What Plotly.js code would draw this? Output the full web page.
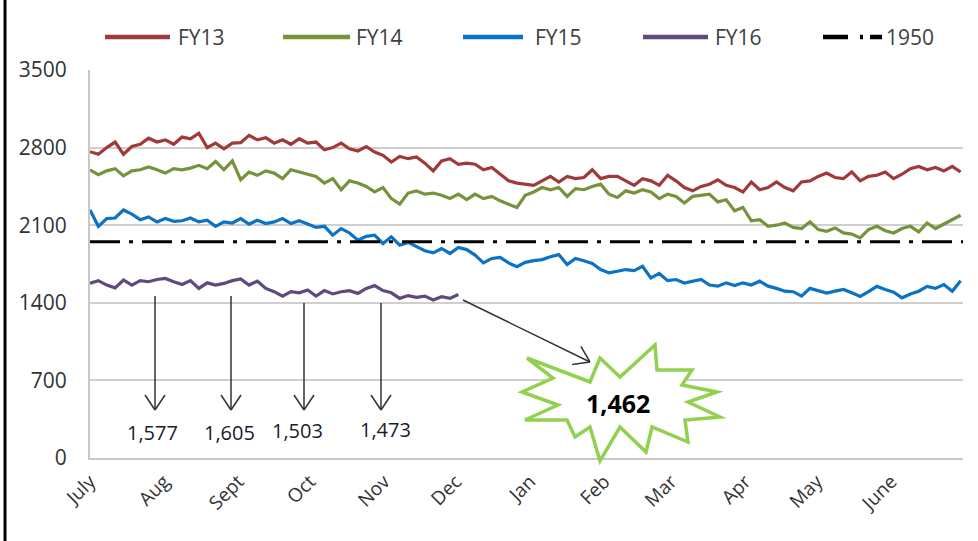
<!DOCTYPE html>
<html>
<head>
<meta charset="utf-8">
<script src="https://cdn.plot.ly/plotly-3.0.1.min.js"></script>
<style>html,body{margin:0;padding:0;background:#fff;}#chart{width:978px;height:541px;}</style>
</head>
<body>
<div id="chart"></div>
<script>
// ---- data (one point every 3.5 days from 1 July) ----
const stepDays = 3.5;
const monthLabels = ["July","Aug","Sept","Oct","Nov","Dec","Jan","Feb","Mar","Apr","May","June"];
const monthStartDays = [0,31,62,92,123,153,184,215,243,274,304,335];
const yTicks = [0,700,1400,2100,2800,3500];
const refLevel = 1950;
const seriesNames = ["FY13","FY14","FY15","FY16"];

const fy13 = [2763,2740,2800,2850,2740,2810,2830,2885,2850,2870,2830,2895,2880,2930,2800,2840,2790,2840,2845,2910,
  2870,2890,2840,2870,2830,2880,2840,2850,2780,2800,2840,2790,2770,2810,2760,2730,2670,2720,2700,2715,
  2660,2590,2680,2700,2650,2660,2650,2600,2620,2560,2500,2480,2470,2460,2500,2540,2490,2540,2520,2530,
  2600,2520,2540,2540,2500,2460,2520,2500,2460,2550,2500,2440,2410,2450,2470,2510,2460,2440,2400,2490,
  2420,2440,2490,2440,2410,2490,2500,2540,2570,2530,2520,2580,2500,2540,2550,2580,2520,2560,2610,2630,
  2600,2620,2590,2630,2580];
const fy14 = [2598,2555,2590,2610,2545,2590,2600,2625,2600,2570,2610,2600,2615,2640,2610,2675,2600,2680,2510,2580,
  2550,2590,2570,2520,2600,2580,2555,2540,2480,2520,2420,2500,2480,2450,2400,2440,2340,2290,2390,2410,
  2380,2390,2370,2340,2380,2330,2380,2340,2360,2320,2290,2260,2370,2400,2440,2420,2440,2360,2430,2420,
  2450,2470,2380,2350,2410,2390,2420,2400,2340,2380,2360,2300,2360,2370,2380,2310,2330,2230,2260,2140,
  2150,2090,2100,2120,2080,2070,2130,2060,2045,2075,2030,2020,1985,2060,2090,2050,2030,2070,2090,2040,
  2120,2070,2110,2150,2190];
const fy15 = [2237,2090,2160,2165,2237,2200,2150,2175,2130,2160,2135,2140,2165,2130,2145,2090,2130,2120,2160,2110,
  2145,2115,2130,2160,2115,2140,2110,2080,2090,2010,2070,2030,1965,2000,2010,1935,1995,1920,1945,1905,
  1870,1850,1890,1845,1900,1880,1830,1760,1800,1810,1760,1725,1765,1780,1790,1815,1835,1745,1800,1780,
  1755,1700,1670,1685,1700,1690,1730,1625,1665,1600,1610,1578,1595,1610,1560,1550,1580,1555,1580,1560,
  1595,1550,1530,1505,1500,1460,1530,1510,1488,1505,1520,1490,1458,1500,1548,1520,1495,1445,1480,1505,
  1548,1530,1565,1505,1600];
const fy16 = [1576,1600,1560,1535,1606,1560,1600,1590,1610,1620,1590,1565,1600,1530,1580,1560,1575,1600,1615,1560,
  1595,1530,1500,1460,1500,1490,1515,1460,1510,1480,1500,1510,1485,1530,1555,1510,1490,1440,1465,1450,
  1460,1425,1455,1440,1475];
const monthlyLabels = ["1,577","1,605","1,503","1,473"];
const latestLabel = "1,462";

// ---- geometry helpers (pixel -> paper) ----
const L = 90, T = 70, W = 873, H = 388;
const px = x => (x - L) / W;
const py = y => (T + H - y) / H;
const days = arr => arr.map((_, i) => i * stepDays);
const colors = ["#A0393A","#76933C","#0B72C4","#5F4A7E"];
const FONT = "Open Sans, sans-serif";

const traces = [fy13, fy14, fy15, fy16].map((vals, k) => ({type:"scatter", mode:"lines",
  name:seriesNames[k], x:days(vals), y:vals, line:{color:colors[k], width:3.2}, hoverinfo:"skip"}));
traces.push({type:"scatter", mode:"lines", name:String(refLevel), x:[0,365], y:[refLevel,refLevel],
  line:{color:"#000", width:3, dash:"30px,9px,4px,9px"}, hoverinfo:"skip"});

const shapes = [];
const annotations = [];
const ink = "#333";
function seg(x0,y0,x1,y1,color,width){
  shapes.push({type:"line", xref:"paper", yref:"paper", x0:px(x0), y0:py(y0), x1:px(x1), y1:py(y1),
    line:{color:color, width:width}});
}
function text(t,x,y,size,color,anchor){
  annotations.push({text:t, xref:"paper", yref:"paper", x:px(x), y:py(y), showarrow:false,
    xanchor:anchor||"center", yanchor:"middle", font:{family:FONT, size:size, color:color}});
}
// left frame line
seg(5,0,5,541,"#000",3);

// legend (drawn by hand to match the original's long samples)
const legY = 37;
const legLine = [[105,170],[283,350],[463,523],[643,708]];
const legText = [176,354,533,713];
seriesNames.forEach((n,k) => {
  seg(legLine[k][0], legY, legLine[k][1], legY, colors[k], 4.5);
  text(n, legText[k], legY, 21, "#404040", "left");
});
seg(823,legY,848,legY,"#000",4.5);
seg(860,legY,863,legY,"#000",4.5);
seg(870,legY,882,legY,"#000",4.5);
text(String(refLevel), 884, legY, 21, "#404040", "left");

// starburst
const star = [[527,358],[590,382],[600,358],[620,377],[655,345],[657,370],[692,370],[682,385],[717,392],
  [688,402],[720,417],[685,420],[688,442],[652,427],[646,452],[620,427],[600,461],[590,427],[575,437],
  [567,420],[525,420],[558,405],[522,392],[553,378]];
shapes.push({type:"path", xref:"paper", yref:"paper", fillcolor:"#fff",
  line:{color:"#92D050", width:3.5},
  path:"M" + star.map(p => px(p[0]).toFixed(5) + "," + py(p[1]).toFixed(5)).join(" L") + " Z"});

// arrow helper with open V head
function arrow(x0,y0,x1,y1){
  seg(x0,y0,x1,y1,ink,1.5);
  const dx = x1-x0, dy = y1-y0, len = Math.hypot(dx,dy);
  const ux = dx/len, uy = dy/len, hl = 15, hw = 10;
  seg(x1 - ux*hl - uy*hw, y1 - uy*hl + ux*hw, x1, y1, ink, 1.5);
  seg(x1 - ux*hl + uy*hw, y1 - uy*hl - ux*hw, x1, y1, ink, 1.5);
}
const downX = [155,231,304,381];
const downTop = [296,296,303,303];
downX.forEach((x,i) => arrow(x, downTop[i], x, 410));
arrow(463,300,590,362);

const labelPos = [[152,432],[229,432],[297,430],[385,429]];
monthlyLabels.forEach((t,i) => text(t, labelPos[i][0], labelPos[i][1], 20, "#1b1b2b"));
text("<b>"+latestLabel+"</b>", 618, 403, 25, "#000");

const layout = {
  width:978, height:541,
  margin:{l:L, r:978-L-W, t:T, b:541-T-H, pad:0},
  paper_bgcolor:"#fff", plot_bgcolor:"#fff",
  font:{family:FONT, color:"#333"},
  showlegend:false,
  xaxis:{range:[0,365], tickmode:"array", tickvals:monthStartDays, ticktext:monthLabels,
    tickangle:-45, showgrid:false, zeroline:false, showline:true, linecolor:"#C8C8C8", linewidth:2,
    ticks:"outside", ticklen:3, tickcolor:"rgba(0,0,0,0)", tickfont:{size:19, color:"#333"}, fixedrange:true},
  yaxis:{range:[0,3500], tickmode:"array", tickvals:yTicks, ticktext:yTicks.map(String),
    showgrid:true, gridcolor:"#CFCFCF", gridwidth:2, zeroline:false, showline:true,
    linecolor:"#C8C8C8", linewidth:2, ticks:"outside", ticklen:17, tickcolor:"rgba(0,0,0,0)",
    tickfont:{size:21, color:"#333"}, fixedrange:true},
  shapes:shapes,
  annotations:annotations
};
Plotly.newPlot("chart", traces, layout, {displayModeBar:false, staticPlot:true});
</script>
</body>
</html>
